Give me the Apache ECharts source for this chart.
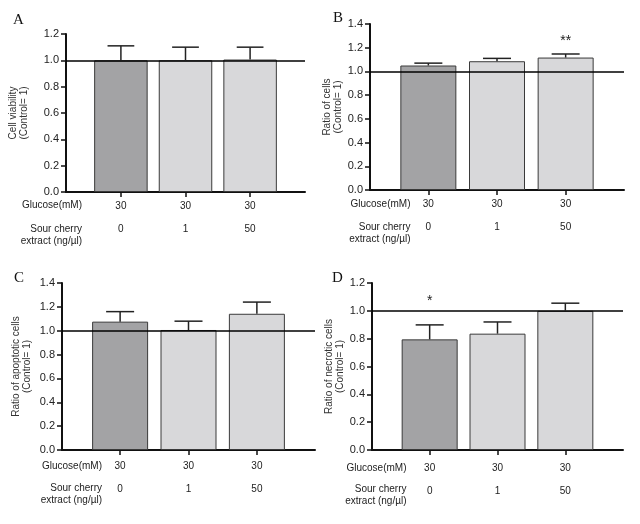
<!DOCTYPE html>
<html>
<head>
<meta charset="utf-8">
<script src="https://cdn.jsdelivr.net/npm/echarts@6/dist/echarts.min.js"></script>
<style>html,body{margin:0;padding:0;background:#fff;}#c{width:640px;height:524px;}</style>
</head>
<body>
<div id="c"></div>
<script>
// ---- data ----
const glucose = ['30', '30', '30'];
const extract = ['0', '1', '50'];
const rowLabel1 = 'Glucose(mM)';
const rowLabel2 = 'Sour cherry\nextract (ng/µl)';
const panelLetters = ['A', 'B', 'C', 'D'];
const yNames = ['Cell viability\n(Control= 1)', 'Ratio of cells\n(Control= 1)', 'Ratio of apoptotic cells\n(Control= 1)', 'Ratio of necrotic cells\n(Control= 1)'];
const yMax = [1.2, 1.4, 1.4, 1.2];
const meansA = [1.0, 1.0, 1.006];
const errA = [0.11, 0.10, 0.094];
const meansB = [1.05, 1.086, 1.117];
const errB = [0.02, 0.024, 0.03];
const meansC = [1.076, 1.006, 1.142];
const errC = [0.084, 0.074, 0.098];
const meansD = [0.795, 0.836, 1.0];
const errD = [0.104, 0.084, 0.055];
const starsB = ['', '', '**'];
const starYB = 1.29;
const starsD = ['*', '', ''];
const starYD = 1.10;
const refLine = 1.0;

const means = [meansA, meansB, meansC, meansD];
const errs = [errA, errB, errC, errD];
const stars = [null, starsB, null, starsD];
const starY = [0, starYB, 0, starYD];

// ---- layout ----
const grids = [
  {left: 66, top: 34, width: 239, height: 158},
  {left: 370, top: 24, width: 254, height: 166},
  {left: 62, top: 283, width: 253, height: 167},
  {left: 372, top: 283, width: 251, height: 167}
];
const barW = [53.5, 56, 56, 56];
const labelMargin = [8, 8, 10, 12];
const nameGaps = [36, 25, 29, 24];
const rowPos = [
  {x: 82, y1: 205.7, y2: 229},
  {x: 410.5, y1: 204, y2: 227},
  {x: 102, y1: 466, y2: 488.7},
  {x: 406.5, y1: 468, y2: 489.3}
];
const letterPos = [[18.5, 20.5], [338, 18], [19, 278.2], [337.5, 278.2]];

const FONT = '"Liberation Sans", Arial, Helvetica, sans-serif';
const dark = '#a3a3a5';
const light = '#d8d8da';
const barColors = [dark, light, light];

const option = {animation: false, backgroundColor: '#fff', grid: [], xAxis: [], yAxis: [], series: [], graphic: []};

for (let p = 0; p < 4; p++) {
  option.grid.push(Object.assign({containLabel: false}, grids[p]));
  option.xAxis.push({
    type: 'value', gridIndex: p, min: -0.85, max: 2.85,
    splitLine: {show: false},
    axisLine: {show: true, onZero: false, lineStyle: {color: '#111', width: 2}},
    axisTick: {show: true, customValues: [0, 1, 2], length: 5, lineStyle: {color: '#111', width: 1.5}},
    axisLabel: {
      show: true, customValues: [0, 1, 2], margin: labelMargin[p],
      fontFamily: FONT, fontSize: 10, color: '#222', lineHeight: 11.5,
      formatter: v => { const i = Math.round(v); return glucose[i] + '\n\n' + extract[i]; }
    }
  });
  option.yAxis.push({
    type: 'value', gridIndex: p, min: 0, max: yMax[p], interval: 0.2,
    splitLine: {show: false},
    axisLine: {show: true, onZero: false, lineStyle: {color: '#111', width: 2}},
    axisTick: {show: true, length: 5, lineStyle: {color: '#111', width: 1.5}},
    axisLabel: {fontFamily: FONT, fontSize: 11, color: '#222', margin: 7, formatter: v => v.toFixed(1)},
    name: yNames[p], nameLocation: 'middle', nameGap: nameGaps[p], nameRotate: 90,
    nameTextStyle: {fontFamily: FONT, fontSize: 10, color: '#333', lineHeight: 11}
  });
  option.series.push({
    type: 'bar', xAxisIndex: p, yAxisIndex: p, barWidth: barW[p],
    data: means[p].map((v, i) => ({value: [i, v], itemStyle: {color: barColors[i]}})),
    itemStyle: {borderColor: '#3a3a3a', borderWidth: 1},
    markLine: {
      silent: true, symbol: 'none', label: {show: false},
      lineStyle: {color: '#000', width: 1.6, type: 'solid'},
      data: [{yAxis: refLine}]
    }
  });
  const cap = barW[p] / 4;
  option.series.push({
    type: 'custom', xAxisIndex: p, yAxisIndex: p, z: 5,
    data: means[p].map((v, i) => [i, v, v + errs[p][i]]),
    renderItem: (params, api) => {
      const b = api.coord([api.value(0), api.value(1)]);
      const t = api.coord([api.value(0), api.value(2)]);
      return {type: 'group', children: [
        {type: 'line', shape: {x1: b[0], y1: b[1], x2: t[0], y2: t[1]}, style: {stroke: '#222', lineWidth: 1.5}},
        {type: 'line', shape: {x1: t[0] - cap, y1: t[1], x2: t[0] + cap, y2: t[1]}, style: {stroke: '#222', lineWidth: 1.5}}
      ]};
    }
  });
  if (stars[p]) {
    option.series.push({
      type: 'custom', xAxisIndex: p, yAxisIndex: p, z: 6,
      data: stars[p].map((s, i) => [i, starY[p], s]),
      renderItem: (params, api) => {
        const c = api.coord([api.value(0), api.value(1)]);
        const s = stars[p][params.dataIndex];
        return {type: 'text', x: c[0], y: c[1] + 4, style: {text: s, fontFamily: FONT, fontSize: 14, fill: '#222', align: 'center', verticalAlign: 'middle'}};
      }
    });
  }
  // row labels and panel letters
  option.graphic.push({type: 'text', x: rowPos[p].x, y: rowPos[p].y1, style: {text: rowLabel1, font: '10px ' + FONT, fill: '#222', align: 'right', verticalAlign: 'middle'}});
  option.graphic.push({type: 'text', x: rowPos[p].x, y: rowPos[p].y2 - 6, style: {text: rowLabel2, font: '10px ' + FONT, fill: '#222', align: 'right', verticalAlign: 'top', lineHeight: 12}});
  option.graphic.push({type: 'text', x: letterPos[p][0], y: letterPos[p][1], style: {text: panelLetters[p], font: '15px "Liberation Serif", "Times New Roman", serif', fill: '#111', align: 'center', verticalAlign: 'middle'}});
}

const chart = echarts.init(document.getElementById('c'), null, {renderer: 'canvas'});
chart.setOption(option);
</script>
</body>
</html>
